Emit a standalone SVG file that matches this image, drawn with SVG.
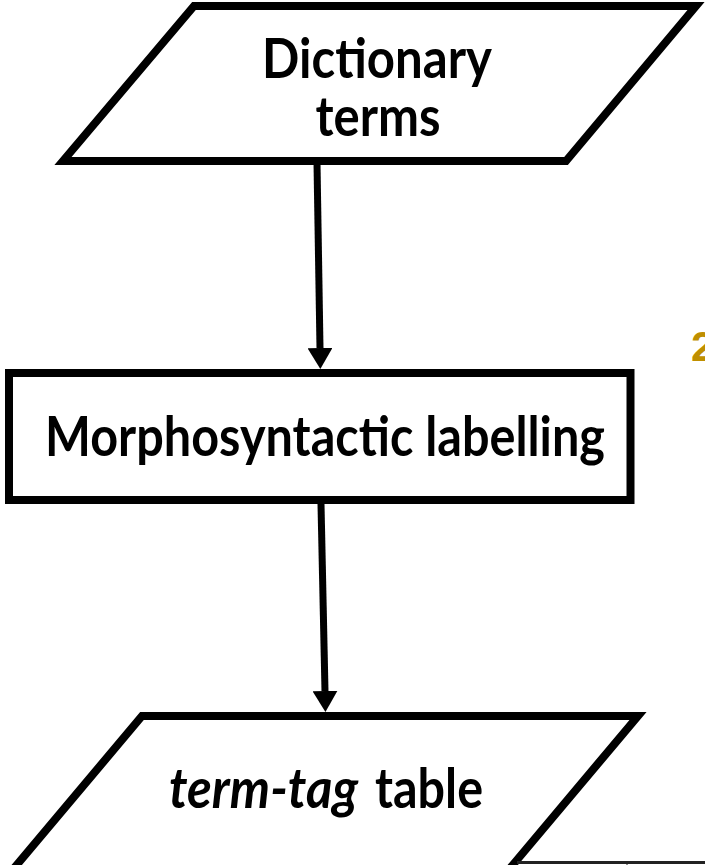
<svg xmlns="http://www.w3.org/2000/svg" width="705" height="865" viewBox="0 0 705 865">
<defs>
<style>
.shape{fill:#ffffff;stroke:#000000;stroke-width:8;stroke-linejoin:miter;stroke-miterlimit:10}
.lbl{font-family:Lato,"Open Sans","Liberation Sans",sans-serif;font-weight:700;fill:#000000;text-anchor:middle}
.lbll{font-family:Lato,"Open Sans","Liberation Sans",sans-serif;font-weight:700;fill:#000000;text-anchor:start}
.conn{stroke:#000000;stroke-width:7;fill:none}
</style>
<marker id="ah" viewBox="0 0 21 25" refX="0" refY="12.5" markerWidth="21" markerHeight="25" markerUnits="userSpaceOnUse" orient="auto">
<path d="M0,0 L21,12.5 L0,25 z" fill="#000000"/>
</marker>
</defs>
<rect width="705" height="865" fill="#ffffff"/>
<g id="node-dictionary-terms">
<polygon class="shape" points="194,6 696,6 566,161 63,161"/>
<text class="lbl" x="377" y="78" font-size="55" textLength="230" lengthAdjust="spacingAndGlyphs">Dictionary</text>
<text class="lbl" x="378" y="136" font-size="55" textLength="125" lengthAdjust="spacingAndGlyphs">terms</text>
</g>
<g id="node-morphosyntactic-labelling">
<rect class="shape" x="9" y="373" width="621.5" height="127"/>
<text class="lbl" x="325" y="456" font-size="56" textLength="560" lengthAdjust="spacingAndGlyphs">Morphosyntactic labelling</text>
</g>
<g id="node-term-tag-table">
<polygon class="shape" points="142,716 638,716 506,873 10,873"/>
<text class="lbll" x="169" y="808" font-size="56" font-style="italic" textLength="189" lengthAdjust="spacingAndGlyphs">term-tag</text>
<text class="lbll" x="375" y="808" font-size="56" textLength="108" lengthAdjust="spacingAndGlyphs">table</text>
</g>
<g id="connectors">
<line class="conn" x1="317" y1="163" x2="320" y2="348" marker-end="url(#ah)"/>
<line class="conn" x1="321" y1="504" x2="325" y2="691" marker-end="url(#ah)"/>
</g>
<g id="partial-elements">
<line x1="517" y1="862.5" x2="705" y2="862.5" stroke="#222222" stroke-width="3"/>
<line x1="627" y1="861" x2="627" y2="865" stroke="#222222" stroke-width="1"/>
<text x="691" y="361" font-family="Liberation Sans, Arial, sans-serif" font-weight="700" font-size="43" fill="#BF8F00">2</text>
</g>
</svg>
